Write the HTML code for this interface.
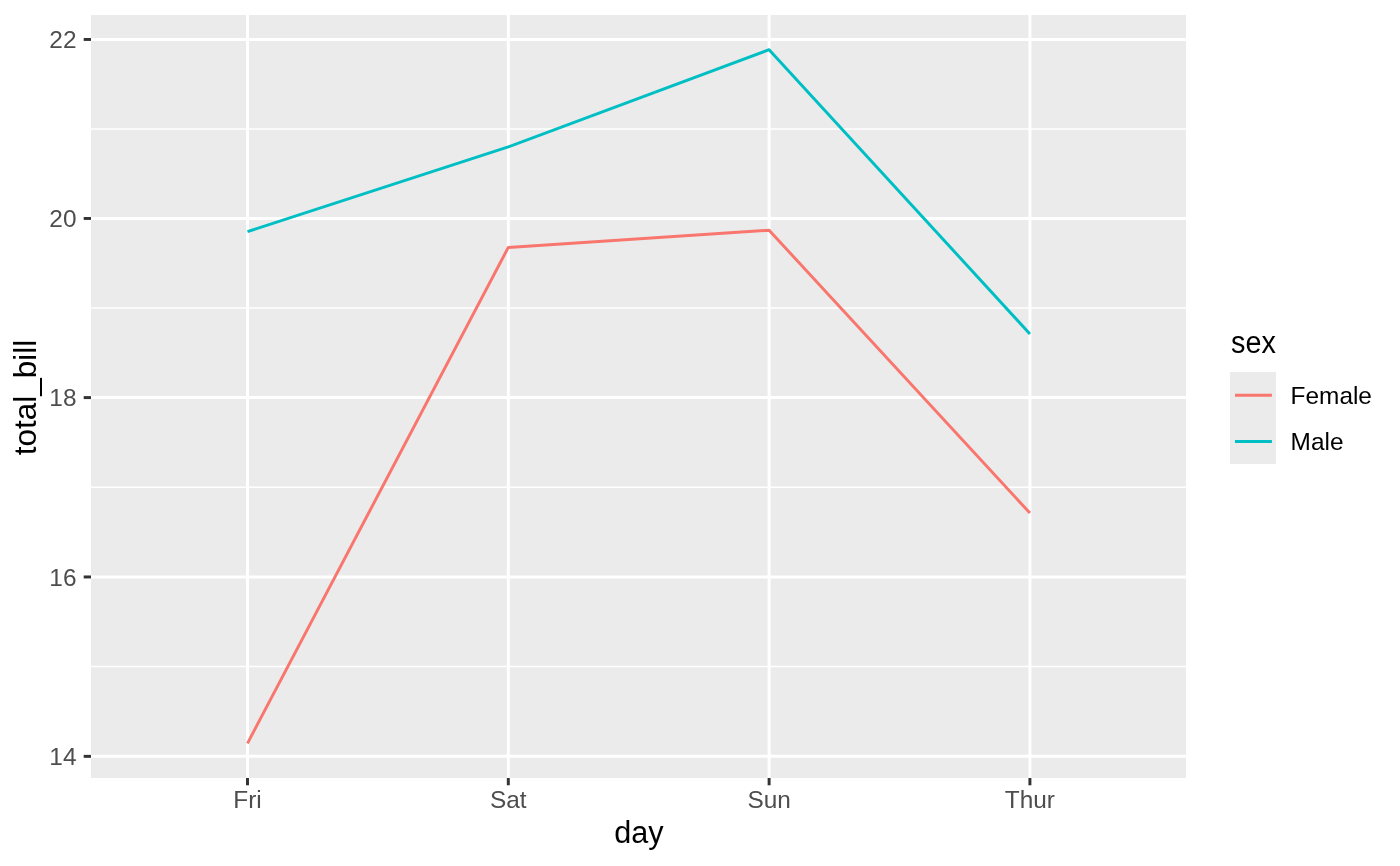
<!DOCTYPE html>
<html>
<head>
<meta charset="utf-8">
<style>
html, body { margin: 0; padding: 0; background: #fff; }
body { width: 1400px; height: 866px; overflow: hidden; }
svg { display: block; will-change: transform; }
text { font-family: "Liberation Sans", sans-serif; }
.ax { fill: #4D4D4D; font-size: 24.4px; }
.ti { fill: #000; font-size: 30.6px; }
.lg { fill: #000; font-size: 24.4px; }
</style>
</head>
<body>
<svg width="1400" height="866" viewBox="0 0 1400 866">
  <rect x="0" y="0" width="1400" height="866" fill="#FFFFFF"/>
  <!-- panel -->
  <rect x="91" y="15" width="1095" height="763" fill="#EBEBEB"/>
  <!-- minor grid -->
  <g stroke="#FFFFFF" stroke-width="1.48" fill="none">
    <line x1="91" x2="1186" y1="666.6" y2="666.6"/>
    <line x1="91" x2="1186" y1="487.3" y2="487.3"/>
    <line x1="91" x2="1186" y1="308.05" y2="308.05"/>
    <line x1="91" x2="1186" y1="128.95" y2="128.95"/>
  </g>
  <!-- major grid -->
  <g stroke="#FFFFFF" stroke-width="2.96" fill="none">
    <line x1="91" x2="1186" y1="756.35" y2="756.35"/>
    <line x1="91" x2="1186" y1="576.95" y2="576.95"/>
    <line x1="91" x2="1186" y1="397.6" y2="397.6"/>
    <line x1="91" x2="1186" y1="218.45" y2="218.45"/>
    <line x1="91" x2="1186" y1="39.45" y2="39.45"/>
    <line y1="15" y2="778" x1="247.49" x2="247.49"/>
    <line y1="15" y2="778" x1="508.30" x2="508.30"/>
    <line y1="15" y2="778" x1="769.10" x2="769.10"/>
    <line y1="15" y2="778" x1="1029.91" x2="1029.91"/>
  </g>
  <!-- data lines -->
  <g fill="none" stroke-width="2.96" stroke-linecap="butt" stroke-linejoin="round">
    <polyline stroke="#F8766D" points="247.49,743.32 508.30,247.41 769.10,230.22 1029.91,513.07"/>
    <polyline stroke="#00BFC4" points="247.49,231.59 508.30,146.87 769.10,49.68 1029.91,333.94"/>
  </g>
  <!-- ticks -->
  <g stroke="#333333" stroke-width="2.96" fill="none">
    <line x1="83.7" x2="91" y1="756.35" y2="756.35"/>
    <line x1="83.7" x2="91" y1="576.95" y2="576.95"/>
    <line x1="83.7" x2="91" y1="397.6" y2="397.6"/>
    <line x1="83.7" x2="91" y1="218.45" y2="218.45"/>
    <line x1="83.7" x2="91" y1="39.45" y2="39.45"/>
    <line y1="778" y2="785.3" x1="247.49" x2="247.49"/>
    <line y1="778" y2="785.3" x1="508.30" x2="508.30"/>
    <line y1="778" y2="785.3" x1="769.10" x2="769.10"/>
    <line y1="778" y2="785.3" x1="1029.91" x2="1029.91"/>
  </g>
  <!-- y labels -->
  <g class="ax" text-anchor="end">
    <text x="76.5" y="764.8">14</text>
    <text x="76.5" y="585.6">16</text>
    <text x="76.5" y="406.4">18</text>
    <text x="76.5" y="227.2">20</text>
    <text x="76.5" y="48">22</text>
  </g>
  <!-- x labels -->
  <g class="ax" text-anchor="middle">
    <text x="247.49" y="808">Fri</text>
    <text x="508.30" y="808">Sat</text>
    <text x="769.10" y="808">Sun</text>
    <text x="1029.91" y="808">Thur</text>
  </g>
  <!-- axis titles -->
  <text class="ti" x="639" y="842.7" text-anchor="middle">day</text>
  <text class="ti" transform="translate(36,397.6) rotate(-90)" text-anchor="middle" textLength="115.5" lengthAdjust="spacingAndGlyphs">total_bill</text>
  <!-- legend -->
  <text class="ti" x="1231" y="352.9" textLength="44.8" lengthAdjust="spacingAndGlyphs">sex</text>
  <rect x="1230" y="372" width="46" height="92" fill="#EBEBEB"/>
  <line x1="1235" x2="1271.9" y1="395.2" y2="395.2" stroke="#F8766D" stroke-width="2.96"/>
  <line x1="1235" x2="1271.9" y1="441.4" y2="441.4" stroke="#00BFC4" stroke-width="2.96"/>
  <text class="lg" x="1290.6" y="404.1">Female</text>
  <text class="lg" x="1290.6" y="450.3">Male</text>
</svg>
</body>
</html>
